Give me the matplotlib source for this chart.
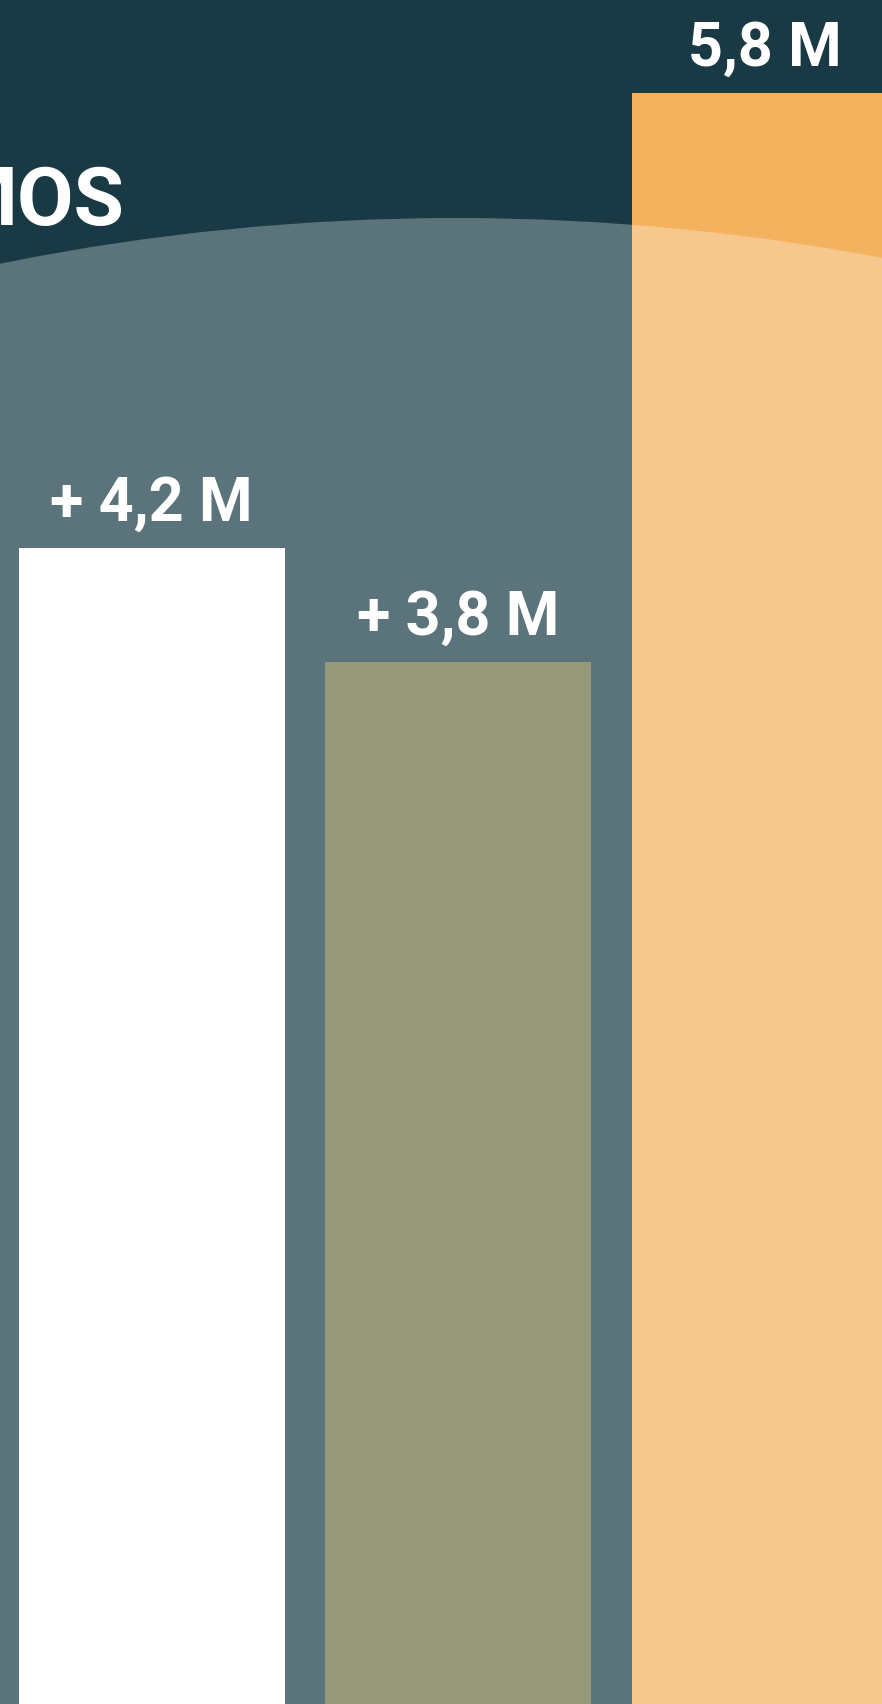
import matplotlib
matplotlib.use("Agg")
import matplotlib.pyplot as plt
from matplotlib.patches import Ellipse

# Data
categories = ["A", "B", "Total"]
values = [4.2, 3.8, 5.8]
labels = ["+ 4,2 M", "+ 3,8 M", "5,8 M"]
bar_colors = ["#ffffff", "#6d6e44", "#f4b25f"]
title_fragment = "MOS"

BG = "#193a44"
W, H = 882, 1704

fig = plt.figure(figsize=(W / 100, H / 100), dpi=100, facecolor=BG)
ax = fig.add_axes([0, 0, 1, 1])
ax.set_facecolor(BG)
ax.axis("off")

x = list(range(len(categories)))
bars = ax.bar(x, values, width=0.867, color=bar_colors, zorder=2, linewidth=0)
ax.set_xlim(-0.494, 2.381)
ax.set_ylim(0.137, 6.127)

# translucent arc overlay (large circle in pixel space)
R = 2300
cx, cy = 456, 218 + R
ell = Ellipse((cx / W, 1 - cy / H), width=2 * R / W, height=2 * R / H,
              transform=fig.transFigure, facecolor="white", alpha=0.29,
              edgecolor="none", zorder=3)
ax.add_artist(ell)

font = "Roboto"
for xi, v, lab in zip(x, values, labels):
    ax.annotate(lab, (xi, v), xytext=(0, 19.5), textcoords="offset points",
                ha="center", va="baseline", color="white", fontsize=44,
                fontweight="bold", family=font, zorder=5)

fig.text(125 / W, 1 - 225 / H, title_fragment, ha="right", va="baseline",
         color="white", fontsize=59, fontweight="bold",
         family=["Liberation Sans Narrow", "Roboto"], zorder=5)

fig.savefig("out.png", dpi=100, facecolor=BG)
